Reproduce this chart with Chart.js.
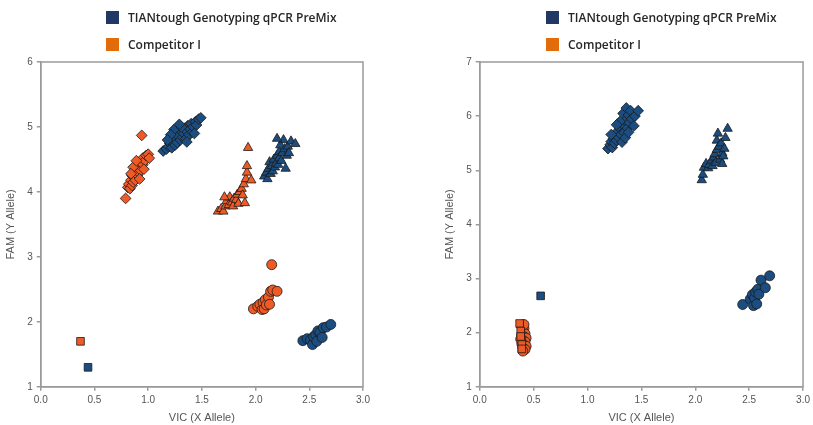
<!DOCTYPE html>
<html>
<head>
<meta charset="utf-8">
<script src="https://cdn.jsdelivr.net/npm/chart.js@4.4.1/dist/chart.umd.min.js"></script>
<style>
  html, body { margin: 0; padding: 0; background: #fff; }
  body { width: 813px; height: 425px; position: relative; overflow: hidden; font-family: "Open Sans", sans-serif; }
  .panel { position: absolute; top: 0; height: 425px; }
  .legend { position: absolute; font-weight: 600; font-size: 12px; color: #262626; }
  .legend div { position: relative; height: 27px; line-height: 14px; padding-left: 22px; white-space: nowrap; }
  .legend span { position: absolute; left: 0; top: 0; width: 13px; height: 13px; }
</style>
</head>
<body>
<div class="panel" style="left:0;width:406px"><canvas id="left"></canvas></div>
<div class="panel" style="left:406px;width:407px"><canvas id="right"></canvas></div>

<div class="legend" style="left:106px;top:11px">
  <div><span style="background:#203864"></span>TIANtough Genotyping qPCR PreMix</div>
  <div><span style="background:#E36C0A"></span>Competitor I</div>
</div>
<div class="legend" style="left:546px;top:11px">
  <div><span style="background:#203864"></span>TIANtough Genotyping qPCR PreMix</div>
  <div><span style="background:#E36C0A"></span>Competitor I</div>
</div>

<script>
// ---- left panel: [VIC, FAM] ----
const leftBlueDiamonds = [[1.14,4.63],[1.17,4.66],[1.19,4.70],[1.20,4.75],[1.22,4.68],[1.23,4.78],[1.25,4.72],[1.25,4.83],[1.27,4.76],[1.27,4.92],[1.28,4.86],[1.30,4.80],[1.30,4.95],[1.32,4.84],[1.33,4.90],[1.34,4.98],[1.35,4.82],[1.36,4.93],[1.37,5.02],[1.38,4.88],[1.39,4.97],[1.40,5.05],[1.41,4.92],[1.42,5.00],[1.44,5.08],[1.45,5.03],[1.47,5.12],[1.49,5.14],[1.24,4.96],[1.31,5.00],[1.21,4.88],[1.18,4.80],[1.29,5.04],[1.36,4.77],[1.43,4.90]];
const leftOrangeDiamonds = [[0.81,4.07],[0.82,4.12],[0.83,4.05],[0.84,4.18],[0.85,4.10],[0.85,4.25],[0.86,4.15],[0.87,4.22],[0.87,4.30],[0.88,4.18],[0.89,4.35],[0.90,4.26],[0.90,4.42],[0.91,4.30],[0.92,4.38],[0.93,4.46],[0.93,4.33],[0.95,4.42],[0.95,4.52],[0.97,4.48],[0.98,4.56],[1.00,4.58],[1.01,4.52],[0.86,4.38],[0.84,4.28],[0.94,4.87],[0.79,3.90],[0.89,4.48],[0.92,4.20],[0.96,4.35]];
const leftBlueTriangles = [[2.08,4.24],[2.10,4.30],[2.11,4.20],[2.12,4.36],[2.13,4.46],[2.14,4.28],[2.15,4.40],[2.16,4.32],[2.17,4.50],[2.18,4.38],[2.19,4.44],[2.20,4.56],[2.21,4.42],[2.22,4.62],[2.22,4.52],[2.23,4.72],[2.24,4.48],[2.25,4.60],[2.26,4.80],[2.27,4.66],[2.28,4.36],[2.29,4.56],[2.30,4.70],[2.31,4.60],[2.33,4.78],[2.37,4.74],[2.20,4.82]];
const leftOrangeTriangles = [[1.65,3.70],[1.68,3.74],[1.70,3.70],[1.72,3.78],[1.73,3.86],[1.75,3.80],[1.76,3.92],[1.78,3.84],[1.79,3.78],[1.80,3.90],[1.82,3.88],[1.83,3.96],[1.84,3.82],[1.85,4.00],[1.87,4.05],[1.88,3.95],[1.89,4.12],[1.90,3.83],[1.91,4.20],[1.92,4.30],[1.92,4.40],[1.96,4.18],[1.71,3.92],[1.93,4.68]];
const leftOrangeCircles = [[1.98,2.20],[2.02,2.24],[2.04,2.27],[2.06,2.19],[2.07,2.30],[2.08,2.20],[2.09,2.34],[2.10,2.26],[2.12,2.38],[2.13,2.27],[2.14,2.47],[2.16,2.49],[2.20,2.47],[2.15,2.88]];
const leftBlueCircles = [[2.44,1.71],[2.48,1.74],[2.51,1.72],[2.53,1.65],[2.54,1.77],[2.56,1.80],[2.57,1.70],[2.58,1.86],[2.60,1.84],[2.62,1.76],[2.63,1.91],[2.66,1.92],[2.70,1.96]];
const leftOrangeSquares = [[0.37,1.70]];
const leftBlueSquares = [[0.44,1.30]];

// ---- right panel ----
const rightBlueDiamonds = [[1.19,5.40],[1.21,5.47],[1.22,5.53],[1.23,5.42],[1.24,5.58],[1.25,5.50],[1.26,5.64],[1.27,5.55],[1.28,5.72],[1.29,5.60],[1.30,5.78],[1.31,5.66],[1.32,5.52],[1.33,5.84],[1.33,6.05],[1.34,5.70],[1.35,5.92],[1.36,6.15],[1.37,5.78],[1.38,6.02],[1.39,5.88],[1.40,6.10],[1.41,5.95],[1.43,5.82],[1.44,6.00],[1.47,6.10],[1.30,5.90],[1.27,5.84],[1.35,5.60],[1.22,5.66],[1.38,5.70]];
const rightBlueTriangles = [[2.06,4.82],[2.07,4.92],[2.08,5.05],[2.10,5.12],[2.12,5.04],[2.13,5.10],[2.15,5.18],[2.16,5.08],[2.17,5.24],[2.18,5.30],[2.19,5.14],[2.20,5.38],[2.20,5.55],[2.21,5.68],[2.22,5.44],[2.23,5.20],[2.24,5.50],[2.25,5.12],[2.25,5.32],[2.27,5.40],[2.28,5.60],[2.26,5.26],[2.30,5.77]];
const rightBlueCircles = [[2.44,2.52],[2.51,2.62],[2.53,2.70],[2.54,2.50],[2.55,2.64],[2.56,2.75],[2.57,2.53],[2.58,2.80],[2.59,2.71],[2.61,2.97],[2.65,2.83],[2.69,3.05]];
const rightBlueSquares = [[0.565,2.68]];
const rightOrangeSquares = [[0.37,2.17],[0.38,2.03],[0.38,1.93],[0.39,1.78],[0.39,1.70]];
const rightOrangeCircles = [[0.39,2.12],[0.41,2.08],[0.40,2.02],[0.42,1.98],[0.39,1.95],[0.41,1.92],[0.43,1.90],[0.40,1.86],[0.42,1.83],[0.39,1.80],[0.41,1.77],[0.43,1.75],[0.40,1.72],[0.42,1.69],[0.40,1.66],[0.41,2.15],[0.38,1.88]];

const xTicks = [0, 0.5, 1, 1.5, 2, 2.5, 3];

const BLUE = '#1B4D80';
const ORANGE = '#EF5B26';
const AXIS = '#9a9a9a';

const toXY = arr => arr.map(p => ({ x: p[0], y: p[1] }));

function series(pts, color, style, radius) {
  return {
    data: toXY(pts),
    pointStyle: style,
    pointRadius: radius,
    pointBackgroundColor: color,
    pointBorderColor: '#1a1a1a',
    pointBorderWidth: 0.8,
    showLine: false
  };
}

// draws the frame round the plot area
const frame = {
  id: 'frame',
  afterDraw(chart) {
    const { ctx, chartArea: a } = chart;
    ctx.save();
    ctx.strokeStyle = AXIS;
    ctx.lineWidth = 1.5;
    ctx.strokeRect(a.left, a.top, a.right - a.left, a.bottom - a.top);
    ctx.restore();
  }
};

function makeChart(id, datasets, yMax, padLeft, padRight) {
  const tickFont = { family: 'Liberation Sans', size: 10 };
  return new Chart(document.getElementById(id), {
    type: 'scatter',
    data: { datasets },
    plugins: [frame],
    options: {
      responsive: true,
      maintainAspectRatio: false,
      animation: false,
      layout: { padding: { top: 62, bottom: 0, left: padLeft, right: padRight } },
      plugins: { legend: { display: false }, tooltip: { enabled: false } },
      scales: {
        x: {
          type: 'linear', min: 0, max: 3,
          afterBuildTicks: s => { s.ticks = xTicks.map(v => ({ value: v })); },
          ticks: { color: '#555', font: tickFont, padding: 3, callback: v => v.toFixed(1) },
          grid: { display: true, drawOnChartArea: false, color: AXIS, tickLength: 4, lineWidth: 1.5 },
          border: { color: AXIS, width: 1.5 },
          title: { display: true, text: 'VIC (X Allele)', color: '#555', font: { family: 'Liberation Sans', size: 11 }, padding: { top: 3, bottom: 0 } }
        },
        y: {
          type: 'linear', min: 1, max: yMax,
          ticks: { stepSize: 1, color: '#555', font: tickFont, padding: 4 },
          grid: { display: true, drawOnChartArea: false, color: AXIS, tickLength: 4, lineWidth: 1.5 },
          border: { color: AXIS, width: 1.5 },
          title: { display: true, text: 'FAM (Y Allele)', color: '#555', font: { family: 'Liberation Sans', size: 11 }, padding: { top: 0, bottom: 6 } }
        }
      }
    }
  });
}

makeChart('left', [
  series(leftOrangeSquares, ORANGE, 'rect', 5.4),
  series(leftBlueSquares, BLUE, 'rect', 5.4),
  series(leftOrangeDiamonds, ORANGE, 'rectRot', 5.4),
  series(leftOrangeTriangles, ORANGE, 'triangle', 5.4),
  series(leftOrangeCircles, ORANGE, 'circle', 5),
  series(leftBlueDiamonds, BLUE, 'rectRot', 5.4),
  series(leftBlueTriangles, BLUE, 'triangle', 5.4),
  series(leftBlueCircles, BLUE, 'circle', 5)
], 6, 4, 43);

makeChart('right', [
  series(rightOrangeSquares, ORANGE, 'rect', 5.4),
  series(rightOrangeCircles, ORANGE, 'circle', 5),
  series(rightBlueSquares, BLUE, 'rect', 5.4),
  series(rightBlueDiamonds, BLUE, 'rectRot', 5.4),
  series(rightBlueTriangles, BLUE, 'triangle', 5.4),
  series(rightBlueCircles, BLUE, 'circle', 5)
], 7, 37, 9);
</script>
</body>
</html>
